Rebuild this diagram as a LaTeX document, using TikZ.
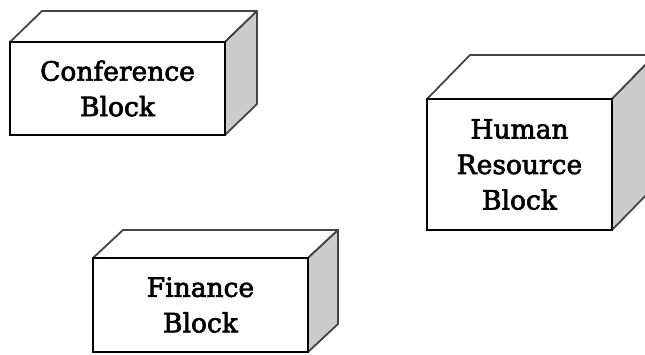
\documentclass[tikz,border=0pt]{standalone}
\usepackage{fontspec}
\setmainfont{DejaVu Serif}[FakeBold=2.5]
\usetikzlibrary{calc}
\definecolor{sidegray}{HTML}{CCCCCC}
\definecolor{edgegray}{HTML}{444444}
\tikzset{
  front/.style={draw=black, line width=2pt, fill=white, align=center, inner sep=0pt,
    font=\fontsize{26.5}{35.5}\selectfont},
  edge/.style={draw=edgegray, line width=1.8pt, line join=round},
}
% #1 name, #2 x, #3 y, #4 w, #5 h, #6 dx, #7 dy (upwards), #8 text
\newcommand\blockbox[8]{%
  \draw[edge, fill=white] ($(#2,#3)+(-#4/2,-#5/2)$) -- ++(#6,-#7) -- ++(#4,0) -- ++(-#6,#7) -- cycle;
  \draw[edge, fill=sidegray] ($(#2,#3)+(#4/2,-#5/2)$) -- ++(#6,-#7) -- ++(0,#5) -- ++(-#6,#7) -- cycle;
  \node[front, minimum width=#4pt, minimum height=#5pt] (#1) at (#2,#3) {#8};
}
\begin{document}
\begin{tikzpicture}[x=1pt,y=-1pt]
\useasboundingbox (0,0) rectangle (645,354);
\clip (0,0) rectangle (645,354);
\blockbox{conf}{117.5}{88.5}{215}{93}{32}{31}{Conference\\Block}
\blockbox{hr}{519.5}{164.5}{185}{131}{43}{44}{Human\\Resource\\Block}
\blockbox{fin}{200.5}{305}{215}{94}{30}{28}{Finance\\Block}
\end{tikzpicture}
\end{document}
